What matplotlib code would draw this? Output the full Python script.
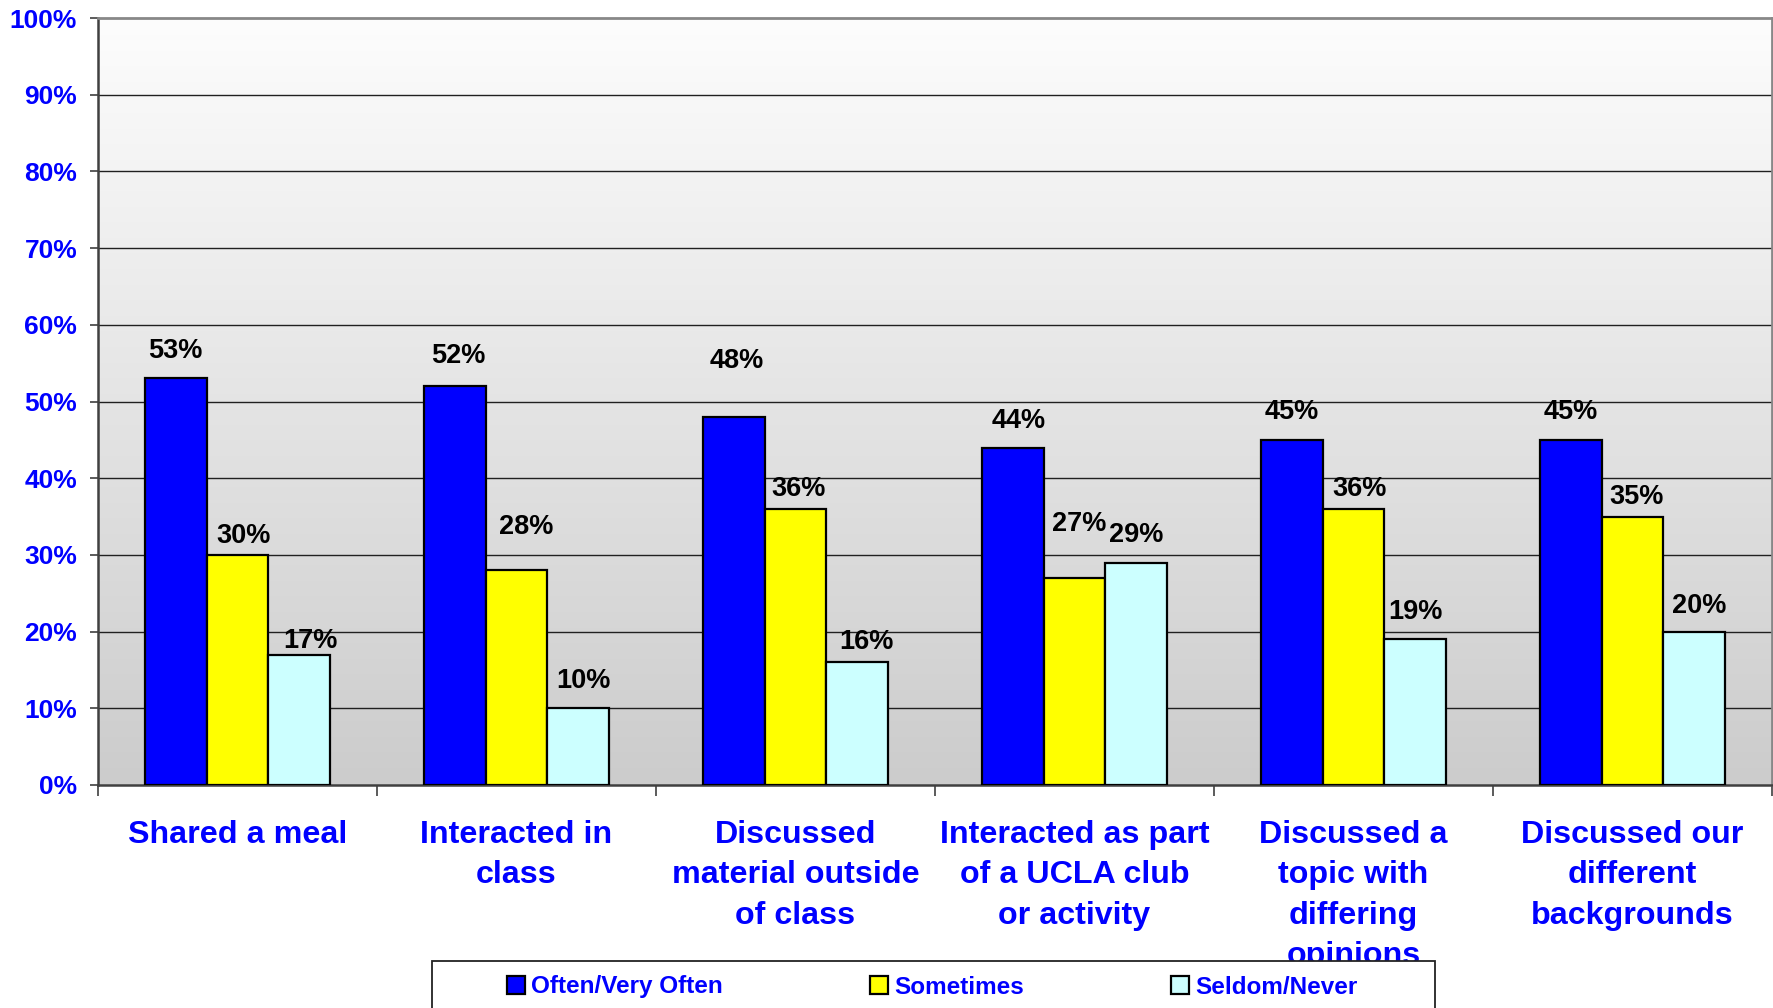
import matplotlib
matplotlib.use("Agg")
import matplotlib.pyplot as plt
import numpy as np
from matplotlib.patches import Rectangle, Patch
from matplotlib.colors import LinearSegmentedColormap

plt.rcParams['font.family'] = ['Liberation Sans', 'DejaVu Sans']
plt.rcParams['font.weight'] = 'bold'

categories = ["Shared a meal", "Interacted in\nclass", "Discussed\nmaterial outside\nof class",
              "Interacted as part\nof a UCLA club\nor activity", "Discussed a\ntopic with\ndiffering\nopinions",
              "Discussed our\ndifferent\nbackgrounds"]
series_names = ["Often/Very Often", "Sometimes", "Seldom/Never"]
often = [53, 52, 48, 44, 45, 45]
sometimes = [30, 28, 36, 27, 36, 35]
seldom = [17, 10, 16, 29, 19, 20]
yticks = [0, 10, 20, 30, 40, 50, 60, 70, 80, 90, 100]

# label offsets (display px of reference): vertical gap above bar top, horizontal shift
label_dy = [[24, 27, 49, 23, 25, 25],
            [17, 38, 18, 48, 18, 17],
            [12, 24, 18, 24, 24, 23]]
label_dx = [[0, 3, 3, 5, 0, 0],
            [5, 9, 3, 4, 5, 4],
            [10, 4, 8, 0, 0, 4]]

colors = ["#0000FF", "#FFFF00", "#CCFFFF"]
series = [often, sometimes, seldom]

W, H = 1774, 1008
fig = plt.figure(figsize=(W / 100, H / 100), dpi=100)
fig.patch.set_facecolor("white")
ax = fig.add_axes([98 / W, 1 - 785 / H, (1772 - 98) / W, (785 - 18) / H])

n = len(categories)
x = np.arange(n)
ax.set_xlim(-0.5, n - 0.5)
ax.set_ylim(0, 100)

# gradient background
cmap = LinearSegmentedColormap.from_list("bg", ["#cccccc", "#fdfdfd"])
grad = np.linspace(0, 1, 256).reshape(-1, 1)
ax.imshow(grad, extent=[-0.5, n - 0.5, 0, 100], origin="lower", aspect="auto",
          cmap=cmap, zorder=0, interpolation="bilinear")

# gridlines
for t in yticks[1:-1]:
    ax.axhline(t, color="#202020", lw=1.0, zorder=1)

bw = 0.222
for k, (vals, col) in enumerate(zip(series, colors)):
    pos = x + (k - 1) * bw
    ax.bar(pos, vals, width=bw, color=col, edgecolor="black", linewidth=1.6, zorder=3,
           label=series_names[k])
    for i, v in enumerate(vals):
        ax.annotate(f"{v}%", xy=(pos[i], v),
                    xytext=(label_dx[k][i] * 1.1314 * 0.72, label_dy[k][i] * 1.1314 * 0.72),
                    textcoords="offset points", ha="center", va="center",
                    fontsize=19.5, fontweight="bold", color="black", zorder=4)

ax.set_yticks(yticks)
ax.set_yticklabels([f"{t}%" for t in yticks], color="#0000FF", fontsize=19, fontweight="bold")
ax.tick_params(axis="y", length=6, width=1.2, color="#404040", pad=9.0, direction="out")

ax.set_xticks(x)
ax.set_xticklabels(categories, color="#0000FF", fontsize=23.2, fontweight="bold", linespacing=1.46)
ax.tick_params(axis="x", which="major", length=0, pad=25)
ax.set_xticks(np.arange(n + 1) - 0.5, minor=True)
ax.tick_params(axis="x", which="minor", length=8, width=1.2, color="#404040", direction="out")

for s in ["left", "bottom"]:
    ax.spines[s].set_color("#404040")
    ax.spines[s].set_linewidth(1.8)
for s in ["top", "right"]:
    ax.spines[s].set_color("#888888")
    ax.spines[s].set_linewidth(2.0)

# legend frame (extends below figure edge)
fig.patches.append(Rectangle((432 / W, -0.05), (1435 - 432) / W, 0.05 + (1008 - 961) / H,
                             transform=fig.transFigure, facecolor="white", edgecolor="#222222",
                             linewidth=1.3, zorder=1))
handles = [Patch(facecolor=c, edgecolor="black", linewidth=1.6) for c in colors]
leg = fig.legend(handles, series_names, loc="center left", bbox_to_anchor=(507 / W, 1 - 987 / H),
                 ncol=3, frameon=False, borderpad=0, borderaxespad=0,
                 handlelength=0.75, handleheight=0.7, handletextpad=0.25, columnspacing=6.05,
                 prop={"weight": "bold", "size": 17.5})
for t in leg.get_texts():
    t.set_color("#0000FF")

fig.savefig("out.png", dpi=100, facecolor="white")
